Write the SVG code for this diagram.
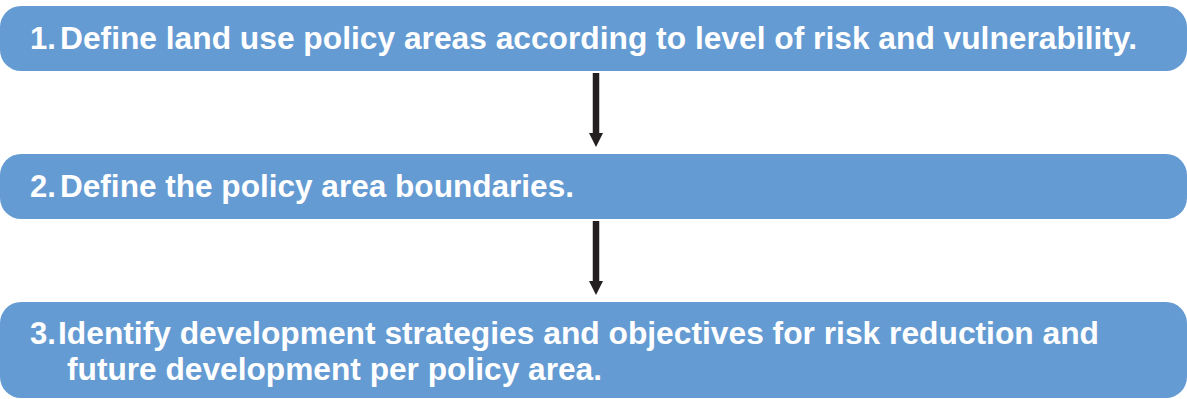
<svg xmlns="http://www.w3.org/2000/svg" width="1187" height="399" viewBox="0 0 1187 399">
<style>
.box{fill:#659bd3;}
.t{font-family:"Liberation Sans",Arial,sans-serif;font-weight:bold;font-size:31px;fill:#ffffff;}
.ar{stroke:#231f20;stroke-width:6.5;fill:none;}
.hd{fill:#231f20;}
</style>
<rect width="1187" height="399" fill="#ffffff"/>
<g id="node1">
<rect class="box" x="0" y="6" width="1187" height="65" rx="21" ry="21"/>
<text class="t" x="30" y="49">1.</text>
<text class="t" x="60" y="49" textLength="1077" lengthAdjust="spacingAndGlyphs">Define land use policy areas according to level of risk and vulnerability.</text>
</g>
<g id="node2">
<rect class="box" x="0" y="154" width="1187" height="65" rx="21" ry="21"/>
<text class="t" x="30" y="197">2.</text>
<text class="t" x="60" y="197" textLength="514" lengthAdjust="spacingAndGlyphs">Define the policy area boundaries.</text>
</g>
<g id="node3">
<rect class="box" x="0" y="302" width="1187" height="96" rx="21" ry="21"/>
<text class="t" x="30" y="344">3.</text>
<text class="t" x="58" y="344" textLength="1041" lengthAdjust="spacingAndGlyphs">Identify development strategies and objectives for risk reduction and</text>
<text class="t" x="67" y="380" textLength="535" lengthAdjust="spacingAndGlyphs">future development per policy area.</text>
</g>
<g id="connectors">
<line class="ar" x1="596" y1="73" x2="596" y2="135"/>
<polygon class="hd" points="589,133 603,133 596,147"/>
<line class="ar" x1="596" y1="221" x2="596" y2="283"/>
<polygon class="hd" points="589,281 603,281 596,295"/>
</g>
</svg>
